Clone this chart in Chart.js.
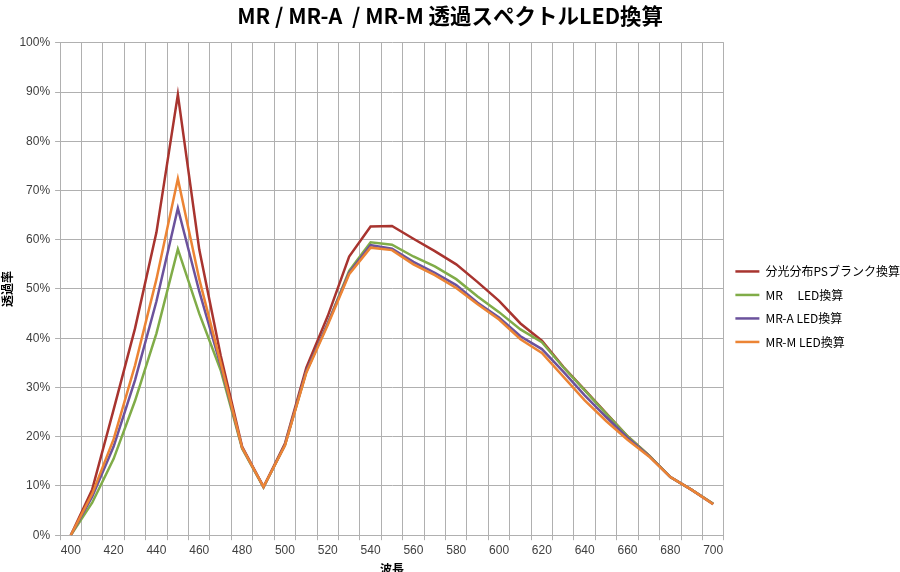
<!DOCTYPE html>
<html>
<head>
<meta charset="utf-8">
<script src="https://cdn.jsdelivr.net/npm/chart.js@4.4.0/dist/chart.umd.min.js"></script>
<style>
html,body{margin:0;padding:0;background:#fff;overflow:hidden}
</style>
</head>
<body>
<canvas id="myChart" width="900" height="572"></canvas>
<script>
// wavelength categories (nm)
const wavelengths = ['400','410','420','430','440','450','460','470','480','490','500','510','520','530','540','550','560','570','580','590','600','610','620','630','640','650','660','670','680','690','700'];

// transmittance, %
const psBlank = [0,9.3,25.5,42,61.5,89.5,58,36.5,18,9.8,18.6,34,44.5,56.6,62.7,62.8,60.2,57.7,55,51.4,47.6,43,39.5,34.2,29.5,24.8,20.1,16.2,11.8,9.2,6.4];
const mrLed   = [0,6.6,15.5,27.3,41,58.1,45,33.5,17.6,9.7,18.3,33.2,43,53.7,59.5,59,56.6,54.6,52,48.5,45.3,41.8,39.2,34.1,29.4,24.7,20.1,16.2,11.8,9.2,6.4];
const mraLed  = [0,7.8,18,31.5,47.5,66.4,49.5,34.5,17.8,9.8,18.3,33.3,43,53.3,58.9,58.2,55.5,53.3,50.8,47.2,44.2,40.4,37.8,33.2,28.4,24,19.8,16.1,11.8,9.2,6.3];
const mrmLed  = [0,8.4,19.5,34.5,52,72.4,52,35,17.8,9.8,18.2,33,42.7,53,58.4,57.9,55,52.8,50.2,46.9,43.8,39.8,37,32.2,27.4,23.2,19.4,16,11.8,9.2,6.3];

const seriesNames = ['分光分布PSブランク換算','MR　 LED換算','MR-A LED換算','MR-M LED換算'];
const seriesColors = ['#A8342F','#80AC48','#6B529C','#EC8434'];

const jp = "'Noto Sans CJK JP', sans-serif";
const lat = "'Liberation Sans', Arial, sans-serif";

const mk = (i, data, order) => ({
  label: seriesNames[i],
  data: data,
  borderColor: seriesColors[i],
  backgroundColor: seriesColors[i],
  borderWidth: 2.5,
  pointRadius: 0,
  tension: 0,
  order: order
});

const ctx = document.getElementById('myChart').getContext('2d');
new Chart(ctx, {
  type: 'line',
  data: {
    labels: wavelengths,
    datasets: [mk(0, psBlank, 4), mk(1, mrLed, 3), mk(2, mraLed, 2), mk(3, mrmLed, 1)]
  },
  options: {
    responsive: false,
    animation: false,
    devicePixelRatio: 1,
    layout: { padding: { left: 0, right: -10, top: 0, bottom: -5 } },
    plugins: {
      title: {
        display: true,
        text: 'MR / MR-A  / MR-M 透過スペクトルLED換算  ',
        color: '#000',
        font: { family: jp, size: 21.5, weight: 'bold' },
        padding: { top: 3, bottom: 14 }
      },
      legend: {
        position: 'right',
        align: 'center',
        title: { display: true, text: ' ', font: { size: 12 }, padding: { top: 0, bottom: 22 } },
        labels: {
          usePointStyle: true,
          pointStyle: 'line',
          pointStyleWidth: 24,
          padding: 11.5,
          color: '#000',
          font: { family: jp, size: 12 },
          sort: (a, b) => a.datasetIndex - b.datasetIndex
        }
      },
      tooltip: { enabled: false }
    },
    scales: {
      x: {
        offset: true,
        grid: { offset: true, color: '#B0B0B0', lineWidth: 1, tickLength: 5 },
        border: { color: '#B0B0B0' },
        ticks: {
          autoSkip: false,
          maxRotation: 0,
          padding: 3,
          color: '#404040',
          font: { family: lat, size: 12 },
          callback: function (v, i) {
            const w = wavelengths[i];
            return Number(w) % 20 === 0 ? w : '';
          }
        },
        title: {
          display: true,
          text: '波長',
          color: '#000',
          font: { family: jp, size: 12, weight: 'bold' },
          padding: { top: 2, bottom: 0 }
        }
      },
      y: {
        min: 0,
        max: 100,
        grid: { color: '#B0B0B0', lineWidth: 1, tickLength: 5 },
        border: { color: '#B0B0B0' },
        ticks: {
          stepSize: 10,
          padding: 5,
          color: '#404040',
          font: { family: lat, size: 12 },
          callback: v => v + '%'
        },
        title: {
          display: true,
          text: '透過率',
          color: '#000',
          font: { family: jp, size: 12, weight: 'bold' },
          padding: { top: 0, bottom: 0 }
        }
      }
    }
  }
});
</script>
</body>
</html>
